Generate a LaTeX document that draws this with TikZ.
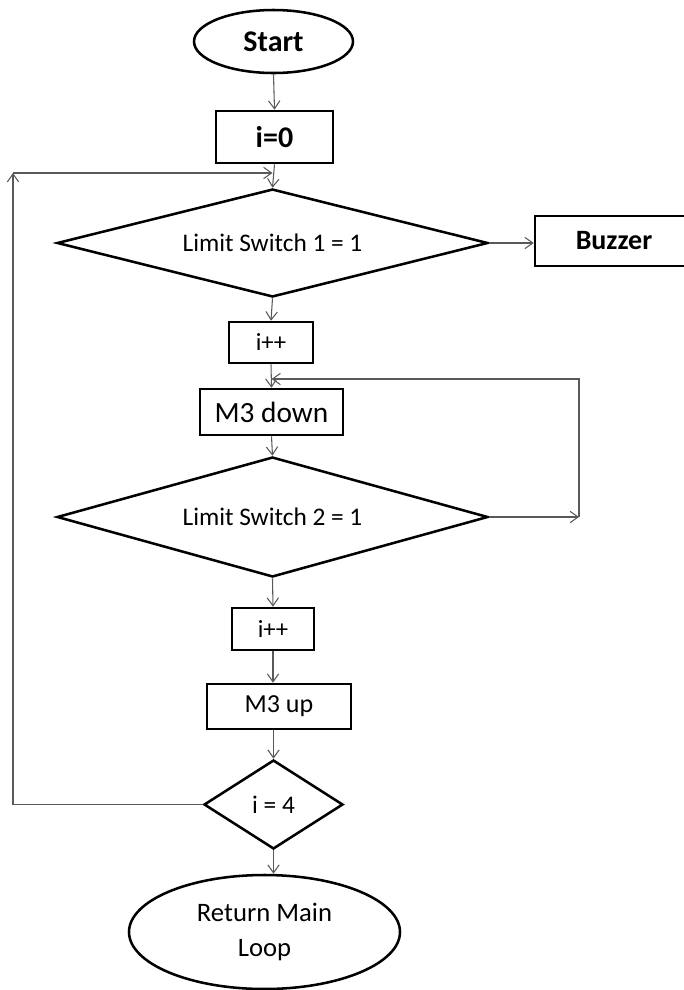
\documentclass[tikz,border=0pt]{standalone}
\usepackage{fontspec}
\setmainfont{Carlito}
\usetikzlibrary{shapes.geometric,arrows.meta}
\begin{document}
\begin{tikzpicture}[x=0.75pt,y=-0.75pt,
  shapeline/.style={draw=black,line width=1.9pt,inner sep=0pt,align=center},
  procbox/.style={shapeline,rectangle},
  term/.style={shapeline,ellipse},
  decide/.style={shapeline,diamond},
  big/.style={font=\fontsize{22.5}{26}\selectfont\bfseries},
  arr/.style={draw=black!65,line width=0.8pt,-{Straight Barb[length=6pt,width=8.5pt]}}]
\useasboundingbox (0,0) rectangle (683,990);

% flowchart nodes
\node[term,big,minimum width=119.25pt,minimum height=47.25pt] (start) at (273.5,41.5) {Start};
\node[procbox,big,minimum width=87.75pt,minimum height=39pt] (init) at (274.5,137) {i=0};
\node[decide,shape aspect=4,font=\fontsize{19}{22}\selectfont,minimum width=323.25pt,minimum height=81pt] (d1) at (272.5,243) {Limit Switch 1 = 1};
\node[procbox,font=\fontsize{21}{24}\selectfont\bfseries,minimum width=118.5pt,minimum height=37.5pt] (buzz) at (614,241) {Buzzer};
\node[procbox,font=\fontsize{18.5}{22}\selectfont,minimum width=63pt,minimum height=30.75pt] (inc1) at (271,342.5) {i++};
\node[procbox,font=\fontsize{22}{24}\selectfont,minimum width=107.25pt,minimum height=34.5pt] (down) at (271.5,412) {M3 down};
\node[decide,shape aspect=3.6,font=\fontsize{19}{22}\selectfont,minimum width=323.25pt,minimum height=90pt] (d2) at (272.5,517) {Limit Switch 2 = 1};
\node[procbox,font=\fontsize{18.5}{22}\selectfont,minimum width=61.5pt,minimum height=31.5pt] (inc2) at (273,629) {i++};
\node[procbox,font=\fontsize{19.5}{22}\selectfont,minimum width=108pt,minimum height=33.75pt] (up) at (279,706.5) {M3 up};
\node[decide,shape aspect=1.56,font=\fontsize{19}{22}\selectfont,minimum width=104.25pt,minimum height=66.75pt] (d3) at (273.5,804.5) {i = 4};
\node[term,font=\fontsize{20}{26}\selectfont,minimum width=203.25pt,minimum height=85.5pt] (ret) at (264.5,932) {Return Main\\Loop};

% loop corners
\coordinate (c1) at (13,173);
\coordinate (j1) at (d1.north |- c1);
\coordinate (c2) at (579,517);
\coordinate (j2) at (271.5,379);

% main flow
\draw[arr] (start.south) -- (init.north);
\draw[arr] (init.south) -- (d1.north);
\draw[arr] (d1.east) -- (d1.east -| buzz.west);
\draw[arr] (d1.south) -- (inc1.north);
\draw[arr] (inc1.south) -- (down.north);
\draw[arr] (down.south) -- (d2.north);
\draw[arr] (d2.south) -- (inc2.north);
\draw[arr] (inc2.south) -- (inc2.south |- up.north);
\draw[arr] (up.south -| d3.north) -- (d3.north);
\draw[arr] (d3.south) -- (d3.south |- ret.north);

% outer loop back to the first switch test
\draw[arr] (d3.west) -| (c1);
\draw[arr] (c1) -- (j1);

% inner loop back to M3 down
\draw[arr] (d2.east) -- (c2);
\draw[arr] (c2) |- (j2);
\end{tikzpicture}
\end{document}
